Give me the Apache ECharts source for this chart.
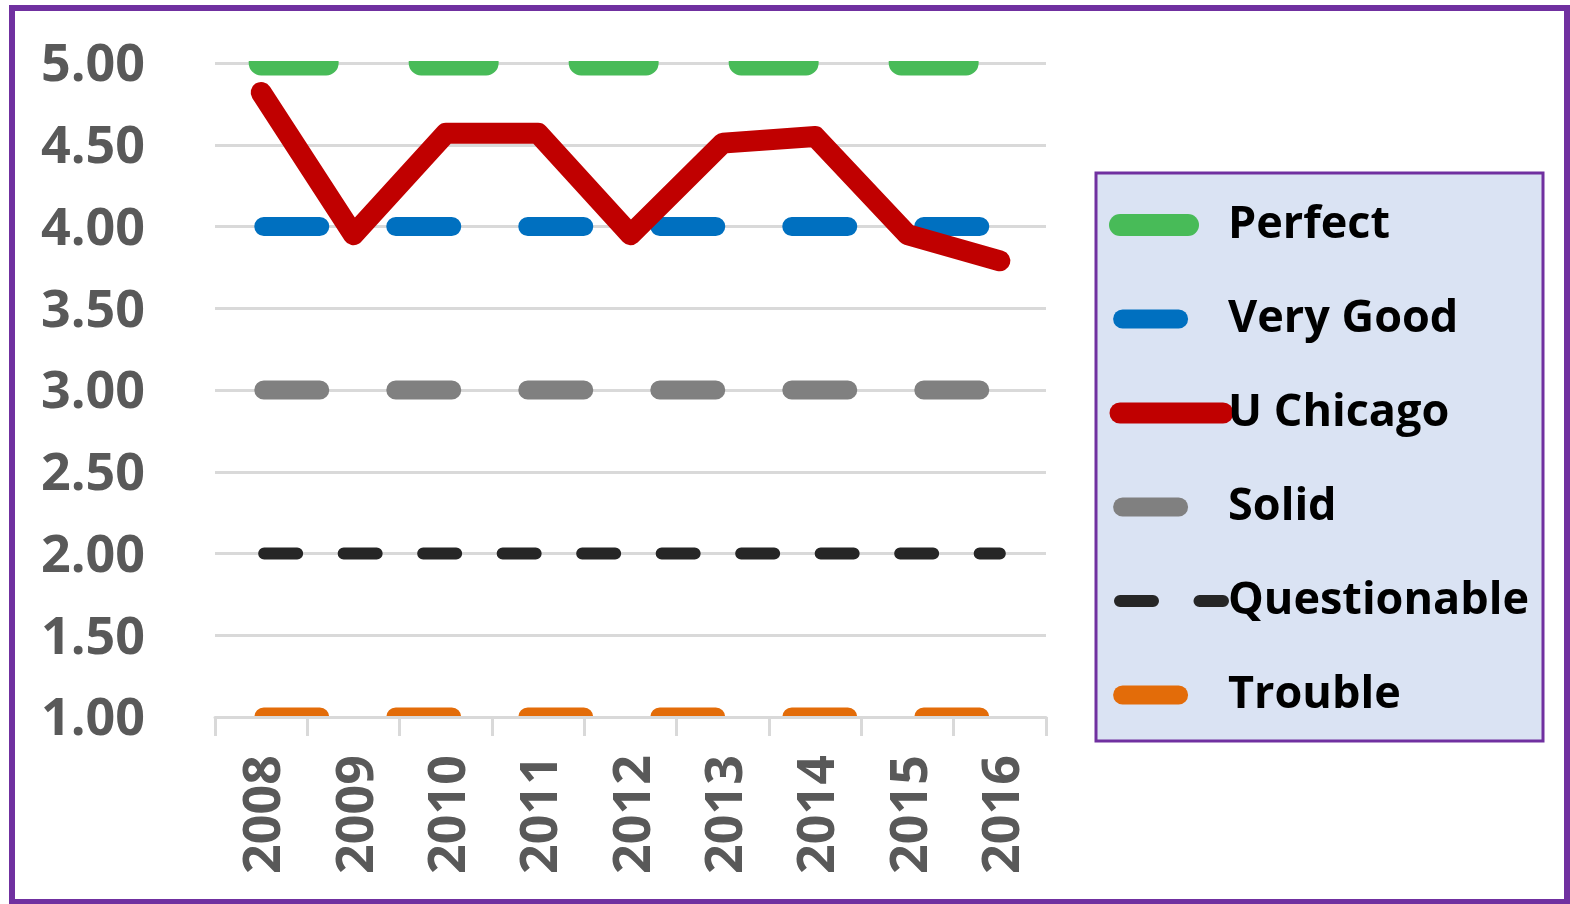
<!DOCTYPE html>
<html>
<head>
<meta charset="utf-8">
<script src="https://cdn.jsdelivr.net/npm/echarts@6/dist/echarts.min.js"></script>
<style>
html,body{margin:0;padding:0;background:#ffffff;}
#c{width:1570px;height:904px;}
</style>
</head>
<body>
<div id="c"></div>
<script>
const categories = ['2008', '2009', '2010', '2011', '2012', '2013', '2014', '2015', '2016'];
const seriesNames = ['Perfect', 'Very Good', 'U Chicago', 'Solid', 'Questionable', 'Trouble'];
const perfect = [5, 5, 5, 5, 5, 5, 5, 5, 5];
const veryGood = [4, 4, 4, 4, 4, 4, 4, 4, 4];
const uChicago = [4.82, 3.95, 4.57, 4.57, 3.95, 4.51, 4.55, 3.95, 3.79];
const solid = [3, 3, 3, 3, 3, 3, 3, 3, 3];
const questionable = [2, 2, 2, 2, 2, 2, 2, 2, 2];
const trouble = [1, 1, 1, 1, 1, 1, 1, 1, 1];
const yMin = 1, yMax = 5, yStep = 0.5;

const FONT = '"Open Sans", "Liberation Sans", sans-serif';
const chart = echarts.init(document.getElementById('c'), null, { renderer: 'canvas' });

function lineSeries(name, data, color, width, dash, offset, extra) {
  return Object.assign({
    name: name,
    type: 'line',
    data: data,
    symbol: 'none',
    showSymbol: false,
    silent: true,
    z: 2,
    lineStyle: {
      color: color,
      width: width,
      type: dash,
      dashOffset: offset || 0,
      cap: 'round',
      join: 'round'
    },
    itemStyle: { color: color }
  }, extra || {});
}

const option = {
  animation: false,
  backgroundColor: '#ffffff',
  grid: { left: 215, right: 524, top: 63, bottom: 187, containLabel: false },
  xAxis: {
    type: 'category',
    data: categories,
    boundaryGap: true,
    z: 6,
    axisLine: { show: true, lineStyle: { color: '#D9D9D9', width: 3 } },
    axisTick: { show: true, length: 19, lineStyle: { color: '#D9D9D9', width: 3 } },
    axisLabel: {
      rotate: 90,
      margin: 38,
      interval: 0,
      verticalAlign: 'top',
      lineHeight: 9,
      color: '#595959',
      fontSize: 52,
      fontWeight: 'bold',
      fontFamily: FONT
    },
    splitLine: { show: false }
  },
  yAxis: {
    type: 'value',
    min: yMin,
    max: yMax,
    interval: yStep,
    axisLine: { show: false },
    axisTick: { show: false },
    axisLabel: {
      margin: 70,
      verticalAlign: 'top',
      lineHeight: 7,
      color: '#595959',
      fontSize: 52,
      fontWeight: 'bold',
      fontFamily: FONT,
      formatter: function (v) { return v.toFixed(2); }
    },
    splitLine: { show: true, lineStyle: { color: '#D9D9D9', width: 3 } }
  },
  legend: {
    orient: 'vertical',
    left: 1109,
    top: 200,
    padding: 0,
    itemWidth: 103,
    itemHeight: 22,
    itemGap: 44,
    selectedMode: false,
    itemStyle: { opacity: 0 },
    lineStyle: { width: 'inherit' },
    textStyle: {
      color: '#000000',
      fontSize: 45,
      fontWeight: 'bold',
      fontFamily: FONT,
      lineHeight: 50
    },
    data: [
      { name: seriesNames[0], lineStyle: { width: 22, type: [68, 92], dashOffset: 0 } },
      { name: seriesNames[1] },
      { name: seriesNames[2] },
      { name: seriesNames[3] },
      { name: seriesNames[4], lineStyle: { dashOffset: 0 } },
      { name: seriesNames[5] }
    ]
  },
  graphic: [
    { type: 'rect', z: 0, silent: true,
      shape: { x: 1096, y: 173, width: 447, height: 568 },
      style: { fill: '#DAE3F3', stroke: '#7030A0', lineWidth: 3 } },
    { type: 'rect', z: 5, silent: true,
      shape: { x: 200, y: 30, width: 860, height: 31 },
      style: { fill: '#ffffff' } },
    { type: 'rect', z: 5, silent: true,
      shape: { x: 200, y: 719, width: 860, height: 26 },
      style: { fill: '#ffffff' } },
    { type: 'rect', z: 20, silent: true,
      shape: { x: 12, y: 8, width: 1555, height: 894 },
      style: { fill: null, stroke: '#7030A0', lineWidth: 6 } }
  ],
  series: [
    lineSeries(seriesNames[0], perfect, '#48BB58', 25, [65, 95], 0),
    lineSeries(seriesNames[1], veryGood, '#0070C0', 19, [56, 76], -2.6),
    lineSeries(seriesNames[2], uChicago, '#C00000', 21, 'solid', 0),
    lineSeries(seriesNames[3], solid, '#808080', 19, [56, 76], -2.6),
    lineSeries(seriesNames[4], questionable, '#262626', 12, [33, 46.5], -3),
    lineSeries(seriesNames[5], trouble, '#E36C09', 19, [56, 76], -2.6)
  ]
};
chart.setOption(option);
</script>
</body>
</html>
